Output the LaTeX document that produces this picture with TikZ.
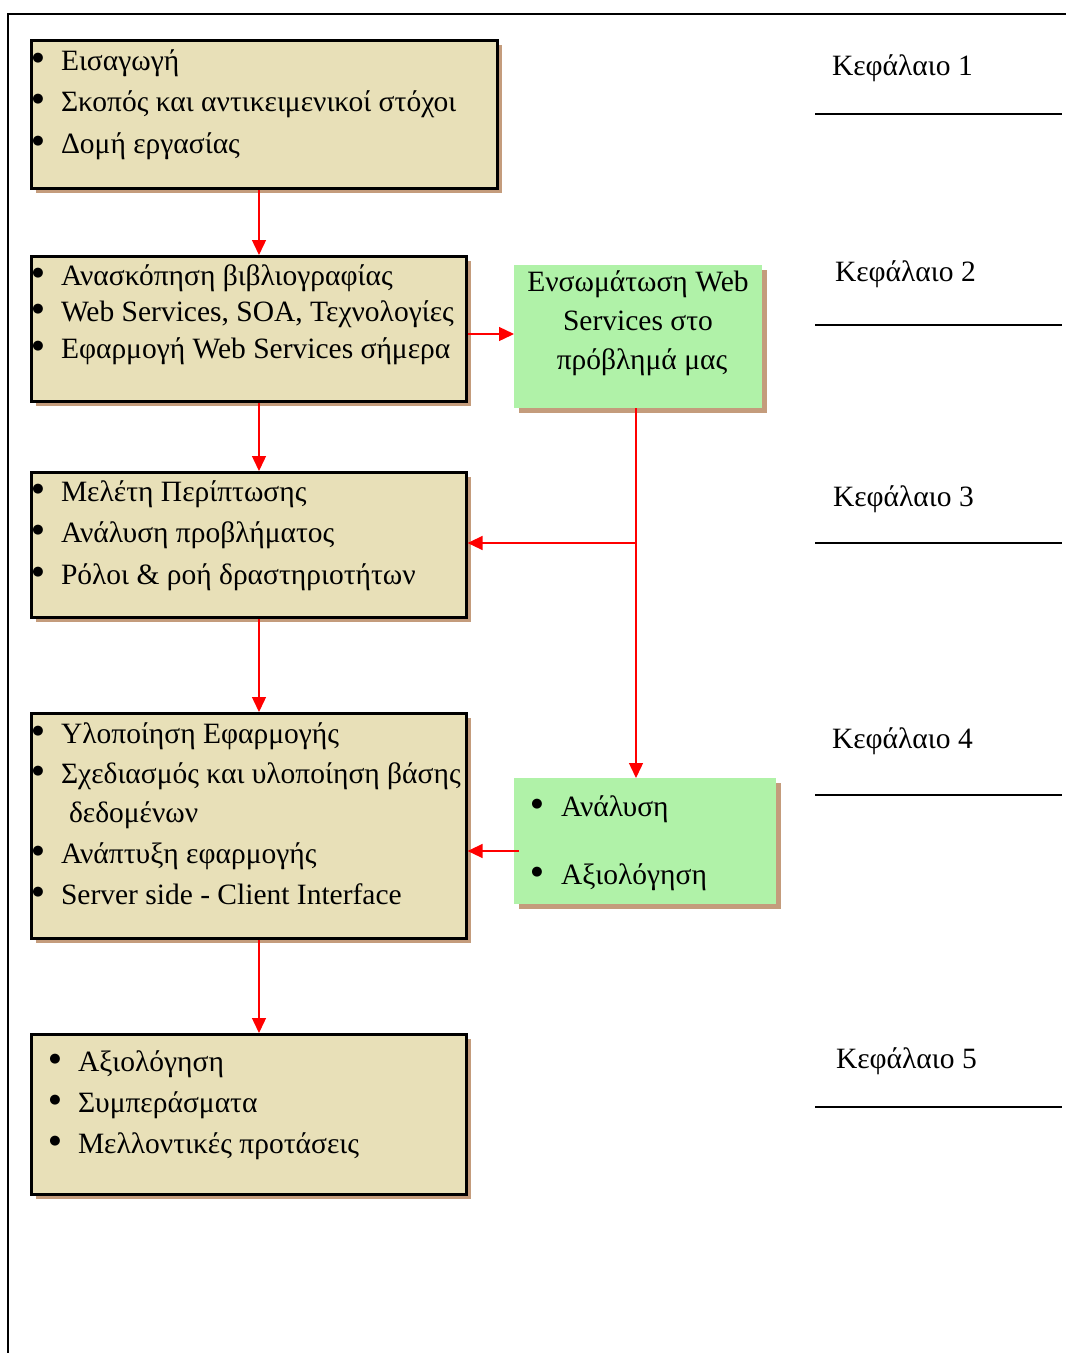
\documentclass[tikz,border=0pt]{standalone}
\usepackage{fontspec}
\setmainfont{Liberation Serif}
\newfontfamily\bulletfont{DejaVu Sans}
\usetikzlibrary{shadows,arrows.meta}

\definecolor{boxtan}{HTML}{E8E0B8}
\definecolor{mint}{HTML}{B0F2A8}
\definecolor{shadebrown}{HTML}{C49C7C}

\begin{document}
\begin{tikzpicture}[x=1pt,y=-1pt,
  every node/.style={inner sep=0pt, outer sep=0pt},
  txt/.style={anchor=base west, font=\fontsize{29.5}{35}\selectfont},
  bul/.style={anchor=center, font=\bulletfont\fontsize{13}{14}\selectfont, yshift=12pt},
  brown shadow/.style={drop shadow={opacity=1, fill=shadebrown, shadow xshift=5pt, shadow yshift=-5pt}},
  tanbox/.style={draw=black, line width=2.6pt, fill=boxtan, brown shadow, anchor=north west, outer sep=1.3pt},
  greenbox/.style={fill=mint, brown shadow, anchor=north west},
  arr/.style={draw=red, line width=1.4pt, -{Triangle[length=15pt,width=14pt]}},
  rule/.style={draw=black, line width=1.6pt}
]
\useasboundingbox (0,0) rectangle (1066,1353);

% page frame
\draw[line width=1.8pt] (8,1353) -- (8,14) -- (1066,14);

% chapter boxes
\node[tanbox, minimum width=466pt, minimum height=148pt] (b1) at (30,39) {};
\node[tanbox, minimum width=435pt, minimum height=145pt] (b2) at (30,255) {};
\node[tanbox, minimum width=435pt, minimum height=145pt] (b3) at (30,471) {};
\node[tanbox, minimum width=435pt, minimum height=225pt] (b4) at (30,712) {};
\node[tanbox, minimum width=435pt, minimum height=160pt] (b5) at (30,1033) {};

% green side boxes
\node[greenbox, minimum width=248pt, minimum height=143pt] (ga) at (514,265) {};
\node[greenbox, minimum width=262pt, minimum height=126pt] (gb) at (514,778) {};

% box 1
\foreach \i/\y/\t in {1/70/{Εισαγωγή},2/111/{Σκοπός και αντικειμενικοί στόχοι},3/153/{Δομή εργασίας}}{
  \node[bul] (b1d\i) at (38,\y) {●};
  \node[txt] (b1t\i) at (61,\y) {\t};
}
% box 2
\foreach \i/\y/\t in {1/285/{Ανασκόπηση βιβλιογραφίας},2/321/{Web Services, SOA, Τεχνολογίες},3/358/{Εφαρμογή Web Services σήμερα}}{
  \node[bul] (b2d\i) at (38,\y) {●};
  \node[txt] (b2t\i) at (61,\y) {\t};
}
% box 3
\foreach \i/\y/\t in {1/501/{Μελέτη Περίπτωσης},2/542/{Ανάλυση προβλήματος},3/584/{Ρόλοι \& ροή δραστηριοτήτων}}{
  \node[bul] (b3d\i) at (38,\y) {●};
  \node[txt] (b3t\i) at (61,\y) {\t};
}
% box 4
\foreach \i/\y/\t in {1/743/{Υλοποίηση Εφαρμογής},2/783/{Σχεδιασμός και υλοποίηση βάσης},3/863/{Ανάπτυξη εφαρμογής},4/904/{Server side - Client Interface}}{
  \node[bul] (b4d\i) at (38,\y) {●};
  \node[txt] (b4t\i) at (61,\y) {\t};
}
\node[txt] (b4cont) at (69,822) {δεδομένων};
% box 5
\foreach \i/\y/\t in {1/1071/{Αξιολόγηση},2/1112/{Συμπεράσματα},3/1153/{Μελλοντικές προτάσεις}}{
  \node[bul] (b5d\i) at (55,\y) {●};
  \node[txt] (b5t\i) at (78,\y) {\t};
}

% green box texts
\node[anchor=base, font=\fontsize{29.5}{35}\selectfont] (ga1) at (638,291) {Ενσωμάτωση Web};
\node[anchor=base, font=\fontsize{29.5}{35}\selectfont] (ga2) at (638,330) {Services στο};
\node[anchor=base, font=\fontsize{29.5}{35}\selectfont] (ga3) at (642,369) {πρόβλημά μας};
\node[bul] (gbd1) at (537,816) {●};
\node[txt] (gbt1) at (561,816) {Ανάλυση};
\node[bul] (gbd2) at (537,884) {●};
\node[txt] (gbt2) at (561,884) {Αξιολόγηση};

% chapter labels with rules
\foreach \i/\x/\y/\r in {1/832/75/114,2/835/281/325,3/833/506/543,4/832/748/795,5/836/1068/1107}{
  \node[txt] (k\i) at (\x,\y) {Κεφάλαιο \i};
  \coordinate (kl\i) at (815,\r);
  \coordinate (kr\i) at (1062,\r);
  \draw[rule] (kl\i) -- (kr\i);
}

% connectors
\coordinate (spine) at (259,0);
\coordinate (drop) at (636,0);
\coordinate (junction) at (636,543);
\coordinate (gbout) at (519,851);
\draw[arr] (spine |- b1.south) -- (spine |- b2.north);
\draw[arr] (spine |- b2.south) -- (spine |- b3.north);
\draw[arr] (spine |- b3.south) -- (spine |- b4.north);
\draw[arr] (spine |- b4.south) -- (spine |- b5.north);
\draw[arr] (b2.east |- 0,334) -- (ga.west |- 0,334);
\draw[arr] (drop |- ga.south) -- (drop |- gb.north);
\draw[arr] (junction) -- (b3.east |- junction);
\draw[arr] (gbout) -- (b4.east |- gbout);
\end{tikzpicture}
\end{document}
